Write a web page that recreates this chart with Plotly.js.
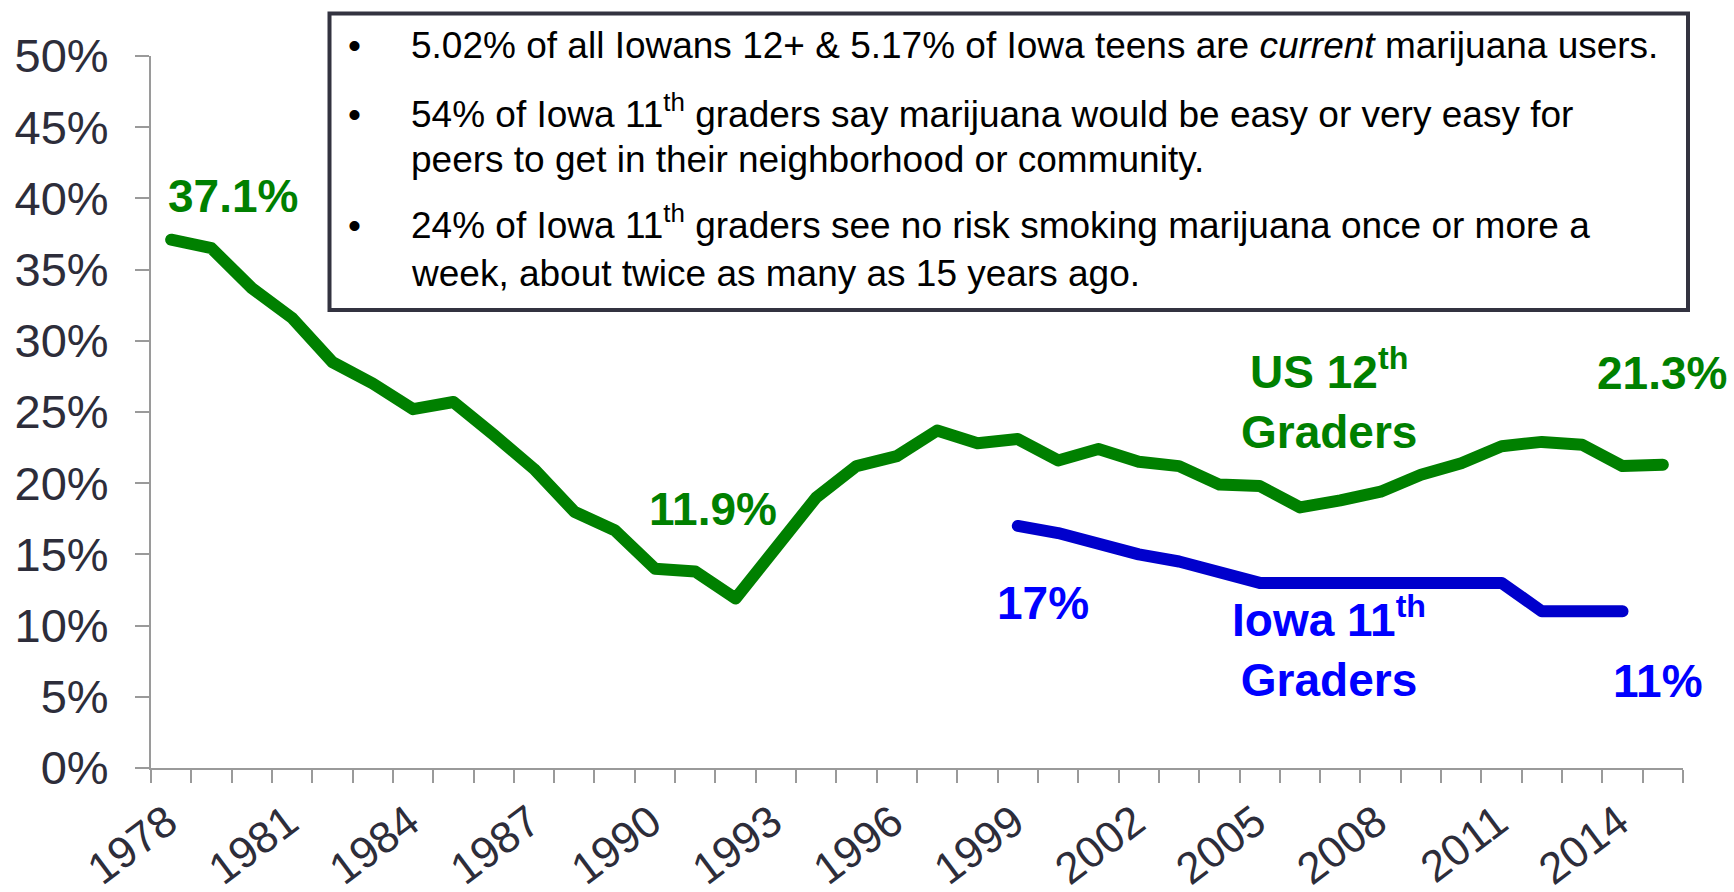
<!DOCTYPE html>
<html>
<head>
<meta charset="utf-8">
<script src="https://cdn.plot.ly/plotly-3.0.1.min.js"></script>
<style>
  html, body { margin: 0; padding: 0; background: #ffffff; }
  #chart { width: 1734px; height: 892px; }
  .scatterlayer .js-line { stroke-linecap: round !important; stroke-linejoin: round !important; }
</style>
</head>
<body>
<div id="chart"></div>
<script>
// ---- data ----
const years = [1978,1979,1980,1981,1982,1983,1984,1985,1986,1987,1988,1989,1990,1991,1992,1993,1994,1995,1996,1997,1998,1999,2000,2001,2002,2003,2004,2005,2006,2007,2008,2009,2010,2011,2012,2013,2014,2015];
const usTwelfthGraders = [37.1,36.5,33.7,31.6,28.5,27.0,25.2,25.7,23.4,21.0,18.0,16.7,14.0,13.8,11.9,15.5,19.0,21.2,21.9,23.7,22.8,23.1,21.6,22.4,21.5,21.2,19.9,19.8,18.3,18.8,19.4,20.6,21.4,22.6,22.9,22.7,21.2,21.3];
const iowaYears = [1999,2000,2002,2003,2005,2011,2012,2014];
const iowaEleventhGraders = [17,16.5,15,14.5,13,13,11,11];
const xTickYears = [1978,1981,1984,1987,1990,1993,1996,1999,2002,2005,2008,2011,2014];
const xTickText = ["1978","1981","1984","1987","1990","1993","1996","1999","2002","2005","2008","2011","2014"];
const boxLines = [
  "5.02% of all Iowans 12+ & 5.17% of Iowa teens are <i>current</i> marijuana users.",
  "54% of Iowa 11<sup>th</sup> graders say marijuana would be easy or very easy for",
  "peers to get in their neighborhood or community.",
  "24% of Iowa 11<sup>th</sup> graders see no risk smoking marijuana once or more a",
  "week, about twice as many as 15 years ago."
];
const bulletOnLine = [true, true, false, true, false];

// ---- layout helpers (pixel -> paper) ----
const W = 1734, H = 892;
const M = {l: 151, r: 51, t: 56, b: 124};
const PW = W - M.l - M.r, PH = H - M.t - M.b;
const px = x => (x - M.l) / PW;
const py = y => (H - M.b - y) / PH;

const FONT = "Liberation Sans, Arial, sans-serif";
const GREEN = "#008000", BLUE_LINE = "#0000CC", BLUE_TEXT = "#0000FF";

const traces = [
  {x: years, y: usTwelfthGraders, type: "scatter", mode: "lines",
   line: {color: GREEN, width: 12}, hoverinfo: "skip", showlegend: false},
  {x: iowaYears, y: iowaEleventhGraders, type: "scatter", mode: "lines",
   line: {color: BLUE_LINE, width: 12}, hoverinfo: "skip", showlegend: false}
];

const big = (text, x, yBottom, color) => ({
  text: text, xref: "paper", yref: "paper", x: px(x), y: py(yBottom),
  xanchor: "center", yanchor: "bottom", showarrow: false, align: "center",
  font: {family: FONT, size: 46, color: color, weight: "bold"}
});

const annotations = [
  big("<b>37.1%</b>", 232.5, 224, GREEN),
  big("<b>11.9%</b>", 713, 536.8, GREEN),
  big("<b>21.3%</b>", 1662, 400.8, GREEN),
  big("<b>US 12<sup>th</sup></b><br><b>Graders</b>", 1329, 459.8, GREEN),
  big("<b>17%</b>", 1042.5, 630.8, BLUE_TEXT),
  big("<b>Iowa 11<sup>th</sup></b><br><b>Graders</b>", 1329, 707.8, BLUE_TEXT),
  big("<b>11%</b>", 1658, 708.8, BLUE_TEXT)
];

const lineBottoms = [67.8, 137.1, 182.1, 248.1, 295.5];
boxLines.forEach((t, i) => {
  annotations.push({
    text: t, xref: "paper", yref: "paper", x: px(409), y: py(lineBottoms[i]),
    xanchor: "left", yanchor: "bottom", showarrow: false, align: "left",
    font: {family: FONT, size: 37, color: "#000000"}
  });
  if (bulletOnLine[i]) {
    annotations.push({
      text: "•", xref: "paper", yref: "paper", x: px(354), y: py(lineBottoms[i]),
      xanchor: "center", yanchor: "bottom", showarrow: false,
      font: {family: FONT, size: 37, color: "#000000"}
    });
  }
});

const layout = {
  width: W, height: H, autosize: false,
  margin: M,
  paper_bgcolor: "#ffffff", plot_bgcolor: "#ffffff",
  showlegend: false,
  xaxis: {
    type: "linear", range: [1977.5, 2015.5], fixedrange: true,
    showgrid: false, zeroline: false,
    showline: true, linecolor: "#9a9a9a", linewidth: 2,
    tickmode: "array", tickvals: xTickYears, ticktext: xTickText,
    ticks: "outside", ticklen: 0, tickcolor: "#9a9a9a",
    tickangle: -37,
    ticklabelstandoff: 9,
    ticklabelshift: -4,
    tickfont: {family: FONT, size: 44, color: "#2d2d3a"},
    minor: {tick0: 1977.5, dtick: 1, ticks: "outside", ticklen: 13,
            tickcolor: "#9a9a9a", tickwidth: 2, showgrid: false}
  },
  yaxis: {
    range: [0, 50], dtick: 5, tick0: 0, fixedrange: true,
    ticksuffix: "%",
    showgrid: false, zeroline: false,
    showline: true, linecolor: "#9a9a9a", linewidth: 2,
    ticks: "outside", ticklen: 14, tickwidth: 2, tickcolor: "#9a9a9a",
    ticklabelstandoff: 17,
    tickfont: {family: FONT, size: 47, color: "#2d2d3a"}
  },
  shapes: [{
    type: "rect", xref: "paper", yref: "paper",
    x0: px(329.5), x1: px(1688), y0: py(13.5), y1: py(310),
    line: {color: "#333340", width: 4}, fillcolor: "rgba(255,255,255,0)", layer: "above"
  }],
  annotations: annotations
};

Plotly.newPlot("chart", traces, layout, {displayModeBar: false, staticPlot: true});
</script>
</body>
</html>
